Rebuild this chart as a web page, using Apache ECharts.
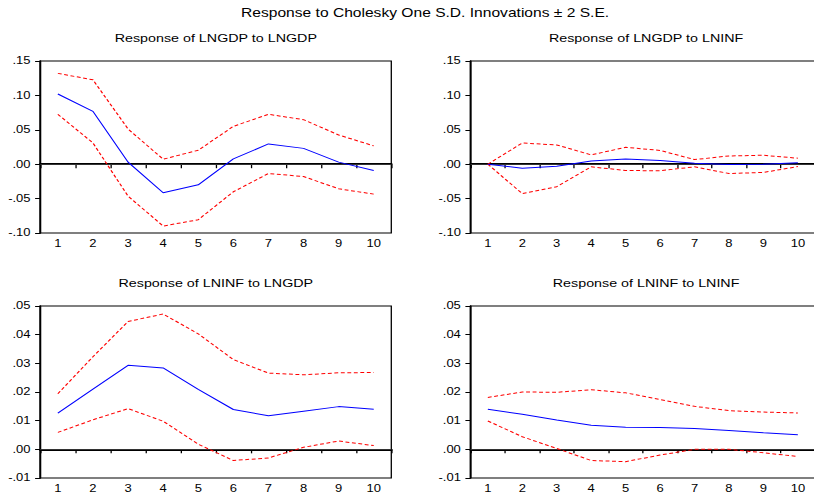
<!DOCTYPE html>
<html>
<head>
<meta charset="utf-8">
<script src="https://cdn.jsdelivr.net/npm/echarts@6/dist/echarts.min.js"></script>
<style>
  html, body { margin: 0; padding: 0; background: #fff; overflow: hidden; }
  /* the original picture is stretched sideways, so draw narrow and scale it */
  #main { width: 627px; height: 494px; transform: scaleX(1.3); transform-origin: 0 0; }
</style>
</head>
<body>
<div id="main"></div>
<script>
const periods = ['1', '2', '3', '4', '5', '6', '7', '8', '9', '10']

// Response of LNGDP to LNGDP
const gdpGdp = [0.102, 0.0768, 0.003, -0.0415, -0.030, 0.0077, 0.0295, 0.023, 0.003, -0.0092]
const gdpGdpUp = [0.132, 0.1227, 0.0512, 0.0072, 0.0203, 0.055, 0.0725, 0.0647, 0.0425, 0.0266]
const gdpGdpLo = [0.0725, 0.0309, -0.0464, -0.0899, -0.0807, -0.0401, -0.0135, -0.0179, -0.0357, -0.0435]

// Response of LNGDP to LNINF
const gdpInf = [0, -0.0058, -0.003, 0.0048, 0.0077, 0.0053, 0.0015, -0.0005, 0, 0.002]
const gdpInfUp = [0, 0.0308, 0.028, 0.0135, 0.0245, 0.020, 0.0067, 0.012, 0.013, 0.0087]
const gdpInfLo = [0, -0.0428, -0.0327, -0.0038, -0.0091, -0.0096, -0.0038, -0.0135, -0.012, -0.0034]

// Response of LNINF to LNGDP
const infGdp = [0.0126, 0.021, 0.0293, 0.0284, 0.0209, 0.0139, 0.0117, 0.0133, 0.0149, 0.014]
const infGdpUp = [0.0194, 0.0323, 0.0446, 0.0472, 0.0403, 0.0313, 0.0266, 0.026, 0.0267, 0.0268]
const infGdpLo = [0.0059, 0.0103, 0.0142, 0.0098, 0.0018, -0.0039, -0.003, 0.0007, 0.0029, 0.0013]

// Response of LNINF to LNINF
const infInf = [0.014, 0.0122, 0.0102, 0.0084, 0.0077, 0.0076, 0.0073, 0.0066, 0.0058, 0.0051]
const infInfUp = [0.0181, 0.020, 0.0199, 0.0208, 0.0197, 0.0174, 0.015, 0.0135, 0.013, 0.0127]
const infInfLo = [0.0099, 0.0044, 0.0003, -0.0039, -0.0043, -0.002, 0, 0, -0.0012, -0.0025]

const panels = [
  { title: 'Response of LNGDP to LNGDP', mid: gdpGdp, up: gdpGdpUp, lo: gdpGdpLo, min: -0.1, max: 0.15, step: 0.05 },
  { title: 'Response of LNGDP to LNINF', mid: gdpInf, up: gdpInfUp, lo: gdpInfLo, min: -0.1, max: 0.15, step: 0.05 },
  { title: 'Response of LNINF to LNGDP', mid: infGdp, up: infGdpUp, lo: infGdpLo, min: -0.01, max: 0.05, step: 0.01 },
  { title: 'Response of LNINF to LNINF', mid: infInf, up: infInfUp, lo: infInfLo, min: -0.01, max: 0.05, step: 0.01 }
]

const font = 'Liberation Sans, Arial, sans-serif'
const lefts = [31, 362, 31, 362]
const tops = [61, 61, 306, 306]
const heights = [172, 172, 173, 173]
const plotWidth = 270

function fmt(v) {
  return v.toFixed(2).replace('0.', '.')
}

const grid = []
const xAxis = []
const yAxis = []
const series = []
const title = [{
  text: 'Response to Cholesky One S.D. Innovations \u00b1 2 S.E.',
  left: 327,
  top: 7,
  textAlign: 'center',
  padding: 0,
  textStyle: { fontFamily: font, fontSize: 12, fontWeight: 'normal', color: '#000' }
}]

panels.forEach((p, i) => {
  grid.push({
    left: lefts[i], top: tops[i], width: plotWidth, height: heights[i],
    show: true, borderColor: '#000', borderWidth: 1, backgroundColor: '#fff'
  })
  title.push({
    text: p.title,
    left: lefts[i] + plotWidth / 2,
    top: tops[i] - 28,
    textAlign: 'center',
    padding: 0,
    textStyle: { fontFamily: font, fontSize: 11, fontWeight: 'normal', color: '#000' }
  })
  xAxis.push({
    type: 'category',
    gridIndex: i,
    data: periods,
    boundaryGap: true,
    axisLine: { lineStyle: { color: '#000', width: 2 } },
    axisTick: { show: true, length: 4, lineStyle: { color: '#000', width: 1 } },
    axisLabel: { fontFamily: font, fontSize: 10, color: '#000', margin: 6, interval: 0 },
    splitLine: { show: false }
  })
  yAxis.push({
    type: 'value',
    gridIndex: i,
    min: p.min,
    max: p.max,
    interval: p.step,
    axisLine: { show: true, lineStyle: { color: '#000', width: 1.5 } },
    axisTick: { show: true, length: 4, lineStyle: { color: '#000', width: 1 } },
    axisLabel: { fontFamily: font, fontSize: 10, color: '#000', margin: 7.5, formatter: fmt },
    splitLine: { show: false }
  })
  series.push({
    type: 'line', xAxisIndex: i, yAxisIndex: i, data: p.up,
    symbol: 'none', lineStyle: { color: '#ff0000', width: 1, type: [3, 2] }
  })
  series.push({
    type: 'line', xAxisIndex: i, yAxisIndex: i, data: p.lo,
    symbol: 'none', lineStyle: { color: '#ff0000', width: 1, type: [3, 2] }
  })
  series.push({
    type: 'line', xAxisIndex: i, yAxisIndex: i, data: p.mid,
    symbol: 'none', lineStyle: { color: '#0000ff', width: 1 },
    z: 3,
    markLine: {
      silent: true,
      symbol: ['none', 'none'],
      label: { show: false },
      lineStyle: { color: '#333', type: 'solid', width: 1 },
      data: [{ yAxis: 0 }],
      z: 1
    }
  })
})

const chart = echarts.init(document.getElementById('main'), null, { renderer: 'svg' })
chart.setOption({
  animation: false,
  backgroundColor: '#fff',
  title: title,
  grid: grid,
  xAxis: xAxis,
  yAxis: yAxis,
  series: series
})
</script>
</body>
</html>
